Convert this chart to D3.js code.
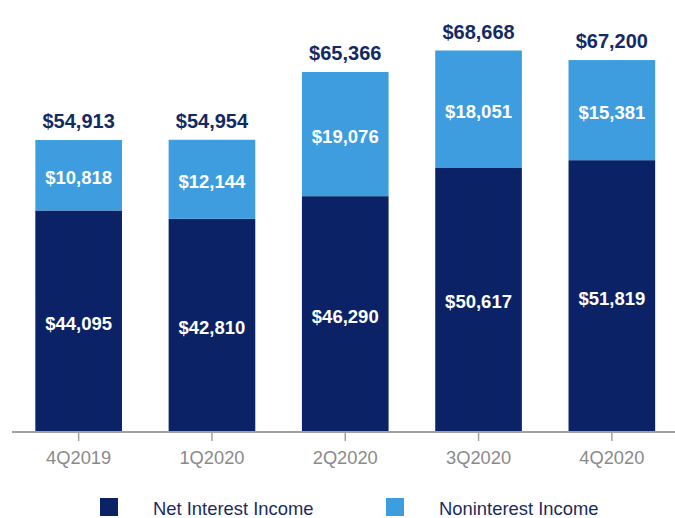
<!DOCTYPE html>
<html><head><meta charset="utf-8">
<script src="https://cdn.jsdelivr.net/npm/d3@7"></script>
<style>body{margin:0;background:#fff}svg{display:block;font-family:"Liberation Sans",Arial,sans-serif}</style>
</head><body><svg id="c" width="675" height="518"></svg>
<script>
const categories = ["4Q2019","1Q2020","2Q2020","3Q2020","4Q2020"];
const netInterest = [44095, 42810, 46290, 50617, 51819];
const nonInterest = [10818, 12144, 19076, 18051, 15381];
const totals = [54913, 54954, 65366, 68668, 67200];
const seriesNames = ["Net Interest Income", "Noninterest Income"];
const colors = ["#0b2366", "#3d9ddf"];

const svg = d3.select("#c");
const baseY = 432;
const x = d3.scaleBand().domain(categories).range([12, 678.5]).paddingInner(0.35).paddingOuter(0.175);
const y = d3.scaleLinear().domain([0, 68668]).range([497.5, 50.5]);
const fmt = v => "$" + d3.format(",")(v);

const g = svg.append("g");
categories.forEach((c, i) => {
  const x0 = x(c), w = x.bandwidth();
  const yN = y(netInterest[i]);
  const yT = y(netInterest[i] + nonInterest[i]);
  g.append("rect").attr("x", x0).attr("y", yN).attr("width", w).attr("height", baseY - yN).attr("fill", colors[0]);
  g.append("rect").attr("x", x0).attr("y", yT).attr("width", w).attr("height", yN - yT).attr("fill", colors[1]);
  const cx = x0 + w / 2;
  g.append("text").attr("x", cx).attr("y", (yN + baseY) / 2 + 2).attr("dy", "0.35em")
    .attr("text-anchor", "middle").attr("fill", "#fff").attr("font-weight", "bold").attr("font-size", 18.5)
    .text(fmt(netInterest[i]));
  g.append("text").attr("x", cx).attr("y", (yT + yN) / 2 + 2).attr("dy", "0.35em")
    .attr("text-anchor", "middle").attr("fill", "#fff").attr("font-weight", "bold").attr("font-size", 18.5)
    .text(fmt(nonInterest[i]));
  g.append("text").attr("x", cx).attr("y", yT - 12)
    .attr("text-anchor", "middle").attr("fill", "#142a63").attr("font-weight", "bold").attr("font-size", 20)
    .text(fmt(totals[i]));
});

const axis = svg.append("g").attr("transform", `translate(0,${baseY})`)
  .call(d3.axisBottom(x).tickSize(9).tickPadding(10).tickSizeOuter(0));
axis.select(".domain").attr("stroke", "#a0a0a0").attr("stroke-width", 2).attr("d", "M12,0H675");
axis.selectAll(".tick line").attr("stroke", "#a0a0a0").attr("stroke-width", 1.5);
axis.selectAll(".tick text").attr("fill", "#8a8a8a").attr("font-size", 18.3)
  .attr("font-family", "'Liberation Sans',Arial,sans-serif");

const legend = svg.append("g");
const legX = [100, 386];
seriesNames.forEach((n, i) => {
  legend.append("rect").attr("x", legX[i]).attr("y", 498).attr("width", 18).attr("height", 18).attr("fill", colors[i]);
  legend.append("text").attr("x", legX[i] + 53).attr("y", 509).attr("dy", "0.35em")
    .attr("fill", "#1b2b5e").attr("font-size", 18.4).text(n);
});
</script></body></html>
